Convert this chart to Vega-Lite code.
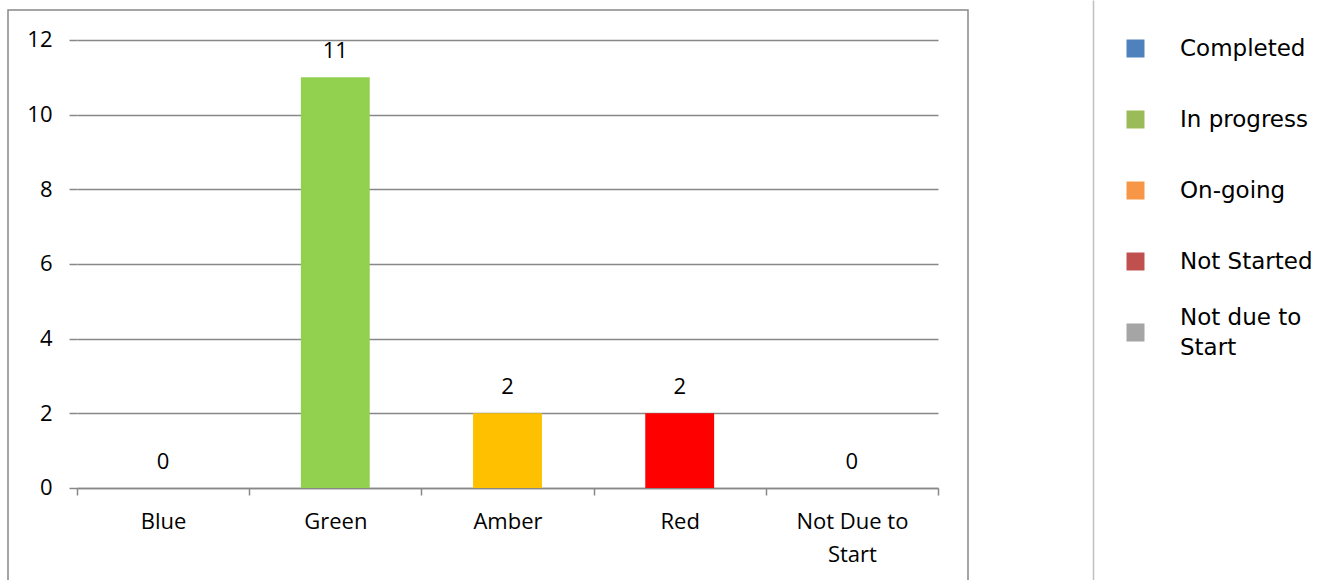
{
  "$schema": "https://vega.github.io/schema/vega-lite/v6.json",
  "width": 960,
  "height": 570,
  "autosize": {"type": "none"},
  "padding": {"left": 8, "top": 10, "right": 351, "bottom": 0},
  "background": "white",
  "config": {
    "view": {"stroke": "#888888", "strokeWidth": 1.5, "strokeDash": [1530, 960, 570, 1]},
    "font": "Open Sans"
  },
  "datasets": {
    "status": [
      {"category": "Blue", "count": 0},
      {"category": "Green", "count": 11},
      {"category": "Amber", "count": 2},
      {"category": "Red", "count": 2},
      {"category": "Not Due to Start", "count": 0}
    ],
    "legendItems": [
      {"status": "Completed"},
      {"status": "In progress"},
      {"status": "On-going"},
      {"status": "Not Started"},
      {"status": "Not due to Start"}
    ]
  },
  "resolve": {"axis": {"y": "independent"}},
  "layer": [
    {
      "data": {"name": "status"},
      "mark": {"type": "bar", "width": {"band": 0.4}},
      "encoding": {
        "x": {
          "field": "category",
          "type": "nominal",
          "sort": null,
          "scale": {"range": [69, 930], "paddingInner": 0, "paddingOuter": 0},
          "axis": {
            "title": null,
            "orient": "bottom",
            "offset": -92,
            "labelAngle": 0,
            "tickBand": "extent",
            "tickSize": 7,
            "tickColor": "#888888",
            "tickWidth": 1.5,
            "domainColor": "#888888",
            "domainWidth": 1.5,
            "labelFont": "Open Sans",
            "labelFontSize": 22,
            "labelColor": "#000000",
            "labelPadding": 16,
            "labelLineHeight": 33,
            "labelLimit": 300,
            "labelExpr": "datum.value == 'Not Due to Start' ? ['Not Due to', 'Start'] : datum.label"
          }
        },
        "y": {
          "field": "count",
          "type": "quantitative",
          "scale": {"domain": [-2.4643, 13.0714], "range": [570, -10], "nice": false, "zero": false},
          "axis": {
            "title": null,
            "orient": "left",
            "offset": -69,
            "values": [0, 2, 4, 6, 8, 10, 12],
            "domain": false,
            "grid": true,
            "gridColor": "#888888",
            "gridWidth": 1.5,
            "tickSize": 8,
            "tickColor": "#888888",
            "tickWidth": 1.5,
            "labelFont": "Open Sans",
            "labelFontSize": 22,
            "labelColor": "#000000",
            "labelPadding": 17
          }
        },
        "y2": {"datum": 0},
        "color": {
          "field": "category",
          "type": "nominal",
          "scale": {
            "domain": ["Blue", "Green", "Amber", "Red", "Not Due to Start"],
            "range": ["#4F81BD", "#92D050", "#FFC000", "#FF0000", "#A5A5A5"]
          },
          "legend": null
        }
      }
    },
    {
      "data": {"name": "status"},
      "mark": {"type": "text", "baseline": "alphabetic", "dy": -19, "fontSize": 22, "font": "Open Sans", "color": "#000000"},
      "encoding": {
        "x": {"field": "category", "type": "nominal", "sort": null},
        "y": {"field": "count", "type": "quantitative", "axis": null},
        "text": {"field": "count", "type": "quantitative"}
      }
    },
    {
      "mark": {"type": "rule", "color": "#888888", "strokeWidth": 1.5},
      "encoding": {
        "x": {"datum": "Blue", "type": "nominal", "bandPosition": 0},
        "y": {"datum": 12, "type": "quantitative", "axis": null},
        "y2": {"datum": 0}
      }
    },
    {
      "data": {"name": "legendItems"},
      "mark": {"type": "point", "shape": "square", "filled": true, "size": 0, "opacity": 0},
      "encoding": {
        "y": {
          "datum": 0,
          "type": "quantitative",
          "axis": {
            "orient": "right",
            "offset": 125,
            "domain": true,
            "domainColor": "#C0C0C0",
            "domainWidth": 1.5,
            "ticks": false,
            "labels": false,
            "grid": false,
            "title": null
          }
        },
        "fill": {
          "field": "status",
          "type": "nominal",
          "scale": {
            "domain": ["Completed", "In progress", "On-going", "Not Started", "Not due to Start"],
            "range": ["#4F81BD", "#9BBB59", "#F79646", "#C0504D", "#A5A5A5"]
          },
          "legend": {
            "title": null,
            "orient": "none",
            "legendX": 1116,
            "legendY": 27,
            "padding": 0,
            "symbolType": "square",
            "symbolSize": 324,
            "symbolOpacity": 1,
            "symbolStrokeWidth": 0,
            "labelOffset": 33,
            "labelFont": "DejaVu Sans",
            "labelFontSize": 23,
            "labelColor": "#000000",
            "labelLimit": 300,
            "rowPadding": 17,
            "gridAlign": "all",
            "labelExpr": "datum.label == 'Not due to Start' ? ['Not due to', 'Start'] : datum.label",
            "encode": {"labels": {"update": {"lineHeight": {"value": 30}, "dy": {"signal": "datum.value == 'Not due to Start' ? -15 : 0"}}}}
          }
        }
      }
    }
  ]
}
